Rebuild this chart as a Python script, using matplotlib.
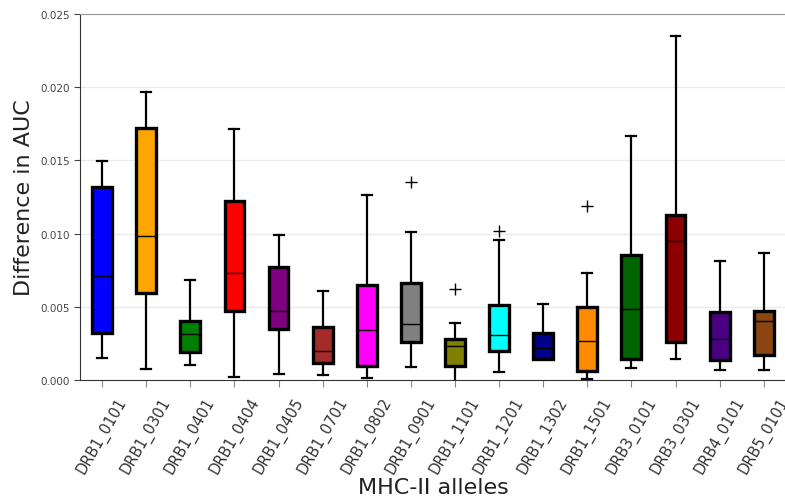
import matplotlib
matplotlib.use("Agg")
import matplotlib.pyplot as plt

alleles = ["DRB1_0101", "DRB1_0301", "DRB1_0401", "DRB1_0404", "DRB1_0405",
           "DRB1_0701", "DRB1_0802", "DRB1_0901", "DRB1_1101", "DRB1_1201",
           "DRB1_1302", "DRB1_1501", "DRB3_0101", "DRB3_0301", "DRB4_0101",
           "DRB5_0101"]
colors = ["blue", "orange", "green", "red", "purple", "brown", "magenta", "gray",
          "olive", "cyan", "darkblue", "darkorange", "darkgreen", "darkred",
          "indigo", "saddlebrown"]

whis_lo = [0.00150, 0.00075, 0.00102, 0.00023, 0.00043, 0.00036, 0.00014, 0.00091,
           -0.00020, 0.00052, 0.00143, 0.00007, 0.00084, 0.00143, 0.00068, 0.00068]
q1 = [0.00319, 0.00594, 0.00194, 0.00471, 0.00346, 0.00116, 0.00093, 0.00257,
      0.00093, 0.00198, 0.00143, 0.00059, 0.00143, 0.00260, 0.00134, 0.00171]
med = [0.00710, 0.00984, 0.00312, 0.00731, 0.00471, 0.00198, 0.00342, 0.00383,
       0.00235, 0.00310, 0.00221, 0.00266, 0.00487, 0.00947, 0.00280, 0.00403]
q3 = [0.01316, 0.01724, 0.00403, 0.01223, 0.00774, 0.00360, 0.00651, 0.00665,
      0.00282, 0.00515, 0.00323, 0.00496, 0.00856, 0.01125, 0.00464, 0.00474]
whis_hi = [0.01494, 0.01965, 0.00685, 0.01715, 0.00988, 0.00610, 0.01261, 0.01009,
           0.00392, 0.00959, 0.00521, 0.00729, 0.01669, 0.02352, 0.00811, 0.00865]
outliers = [[], [], [], [], [], [], [], [0.01352], [0.00624], [0.01015], [],
            [0.01191], [], [], [], []]

stats = []
for i in range(len(alleles)):
    stats.append({"label": alleles[i], "whislo": whis_lo[i], "q1": q1[i],
                  "med": med[i], "q3": q3[i], "whishi": whis_hi[i],
                  "fliers": outliers[i]})

fig = plt.figure(figsize=(7.85, 5.02), dpi=100)
ax = fig.add_axes([0.102, 0.241, 0.899, 0.729])

bp = ax.bxp(stats, widths=0.45, patch_artist=True,
            boxprops=dict(edgecolor="black", linewidth=2.4),
            whiskerprops=dict(color="black", linewidth=1.6),
            capprops=dict(color="black", linewidth=1.6),
            medianprops=dict(color="black", linewidth=1.0),
            flierprops=dict(marker="+", markersize=9, markeredgecolor="black",
                            markeredgewidth=1.0))
for patch, c in zip(bp["boxes"], colors):
    patch.set_facecolor(c)

ax.set_xlim(0.5, 16.5)
ax.set_ylim(0, 0.025)
ax.set_yticks([0, 0.005, 0.01, 0.015, 0.02, 0.025])
ax.set_yticklabels(["0.000", "0.005", "0.010", "0.015", "0.020", "0.025"])
ax.grid(axis="y", color="#ebebeb", linewidth=1)
ax.set_axisbelow(True)

ax.tick_params(axis="y", labelsize=7.5, labelcolor="#444444", color="#444444", length=4)
ax.tick_params(axis="x", labelsize=10.5, labelcolor="#333333", color="#888888",
               length=5, pad=5)
plt.setp(ax.get_xticklabels(), rotation=60, ha="center")

ax.spines["top"].set_color("#999999")
ax.spines["right"].set_visible(False)
ax.spines["left"].set_color("#333333")
ax.spines["bottom"].set_color("#333333")

ax.set_ylabel("Difference in AUC", fontsize=16, color="#222222")
ax.set_xlabel("MHC-II alleles", fontsize=16, color="#222222", labelpad=1)

fig.savefig("out.png", dpi=100)
